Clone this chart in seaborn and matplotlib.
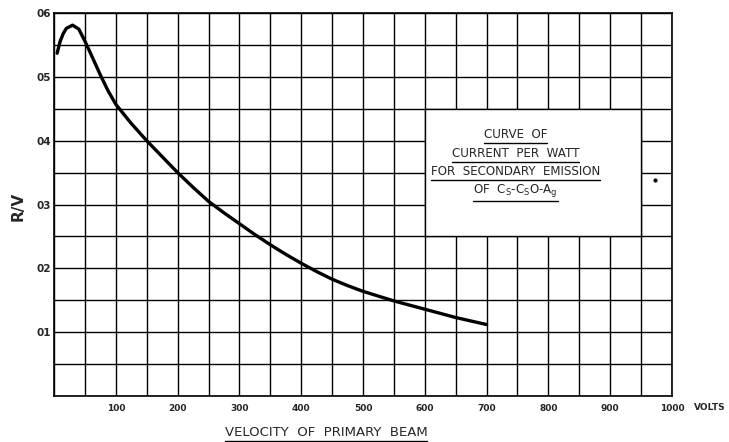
import seaborn as sns
import matplotlib.pyplot as plt
import pandas as pd
import numpy as np

# values (volts, R/V)
volts = [5, 10, 15, 20, 30, 40, 50, 60, 75, 87, 100, 125, 150, 175, 200, 225, 250, 275,
         300, 325, 350, 375, 400, 425, 450, 475, 500, 550, 600, 650, 700]
ratio = [0.537, 0.556, 0.568, 0.576, 0.581, 0.575, 0.556, 0.535, 0.503, 0.479, 0.457,
         0.427, 0.400, 0.375, 0.350, 0.327, 0.305, 0.287, 0.270, 0.253, 0.237, 0.222,
         0.208, 0.195, 0.183, 0.173, 0.164, 0.149, 0.136, 0.123, 0.112]

x_ticks = [100, 200, 300, 400, 500, 600, 700, 800, 900, 1000]
y_ticks = [0.1, 0.2, 0.3, 0.4, 0.5, 0.6]
y_tick_labels = ["01", "02", "03", "04", "05", "06"]

box_lines = ["CURVE  OF", "CURRENT  PER  WATT", "FOR  SECONDARY  EMISSION",
             r"OF  C$_\mathrm{S}$-C$_\mathrm{S}$O-A$_\mathrm{g}$"]

df = pd.DataFrame({"volts": volts, "ratio": ratio})

sns.set_style("white")
plt.rcParams["font.family"] = ["DejaVu Sans"]

fig = plt.figure(figsize=(7.29, 4.42), dpi=100)
ax = fig.add_axes([0.0741, 0.104, 0.8477, 0.8665])

sns.lineplot(data=df, x="volts", y="ratio", ax=ax, color="black", linewidth=2.4, zorder=3)
ax.lines[0].set_solid_joinstyle("round")
ax.lines[0].set_solid_capstyle("round")

ax.set_xlim(0, 1000)
ax.set_ylim(0, 0.6)
ax.set_xticks(np.arange(0, 1001, 50), minor=True)
ax.set_yticks(np.arange(0, 0.601, 0.05), minor=True)
ax.set_xticks(x_ticks)
ax.set_xticklabels([str(v) for v in x_ticks], fontsize=6.5, fontweight="bold")
ax.set_yticks(y_ticks)
ax.set_yticklabels(y_tick_labels, fontsize=7.5, fontweight="bold")
ax.grid(True, which="both", color="black", linewidth=1.0)
ax.tick_params(which="both", length=0)
ax.tick_params(axis="x", pad=6)
ax.tick_params(axis="y", pad=2)
for s in ax.spines.values():
    s.set_color("black")
    s.set_linewidth(1.2)

ax.set_xlabel("")
ax.set_ylabel("")

# label box covering the grid
ax.add_patch(plt.Rectangle((600, 0.25), 350, 0.2, facecolor="white", edgecolor="black",
                           linewidth=1.0, zorder=4))
# small mark to the right of the box
ax.scatter([972], [0.339], s=4, color="black", zorder=5)

texts = []
for i, line in enumerate(box_lines):
    t = ax.text(747, 0.41 - i * 0.0295, line, ha="center", va="center", fontsize=8.6,
                zorder=6)
    texts.append(t)

xl = ax.text(440, -0.057, "VELOCITY  OF  PRIMARY  BEAM", ha="center", va="center",
             fontsize=9.5, clip_on=False)
texts.append(xl)
ax.text(1035, -0.018, "VOLTS", ha="left", va="center", fontsize=6.5, fontweight="bold",
        clip_on=False)
ax.text(-58, 0.297, "R/V", rotation=90, ha="center", va="center", fontsize=11,
        fontweight="bold", clip_on=False)

# underline each heading line
fig.canvas.draw()
r = fig.canvas.get_renderer()
inv = fig.transFigure.inverted()
for t in texts:
    bb = t.get_window_extent(r)
    (x0, y0), (x1, _) = inv.transform([(bb.x0, bb.y0 - 2), (bb.x1, bb.y0)])
    fig.add_artist(plt.Line2D([x0, x1], [y0, y0], color="black", linewidth=1.0, zorder=7))

fig.savefig("out.png", dpi=100)
plt.close(fig)
